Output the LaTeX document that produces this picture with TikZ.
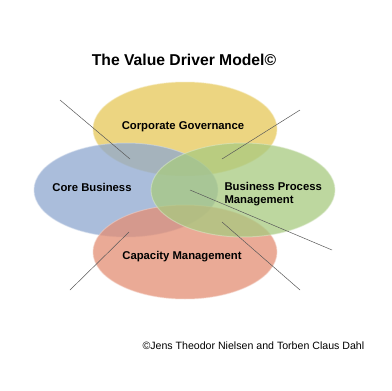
\documentclass[tikz,border=0pt]{standalone}
\usepackage{fontspec}
\setmainfont{Liberation Sans}
\usetikzlibrary{shapes.geometric}

\definecolor{govyellow}{RGB}{230,200,88}
\definecolor{coreblue}{RGB}{142,168,208}
\definecolor{bpmgreen}{RGB}{168,202,128}
\definecolor{capred}{RGB}{228,142,115}

\tikzset{
  driver/.style={ellipse, minimum width=184pt, minimum height=94pt,
                 inner sep=0pt, fill opacity=0.75, draw opacity=0.5, line width=1pt},
  driverlabel/.style={font=\bfseries\fontsize{11.3}{13.6}\selectfont, align=left},
  callout/.style={draw=black!65, line width=0.5pt}
}

\begin{document}
\begin{tikzpicture}[x=1pt, y=-1pt]

    \useasboundingbox[fill=white] (0,0) rectangle (392,391);

    % Title
    \node[font=\bfseries\fontsize{15.7}{18}\selectfont] (title) at (184,60) {The Value Driver Model\textcopyright};

    % --------------------------------------------------
    % The four value drivers
    % --------------------------------------------------
    \node[driver, fill=govyellow, draw=govyellow!40!white] (gov) at (185,129) {};
    \node[driver, fill=coreblue, draw=coreblue!40!white] (core) at (126,190) {};
    \node[driver, fill=capred, draw=capred!40!white] (cap) at (185,252) {};
    \node[driver, fill=bpmgreen, draw=bpmgreen!40!white] (bpm) at (243,190) {};

    % Labels
    \node[driverlabel] (govtext) at (183,127) {Corporate Governance};
    \node[driverlabel] (coretext) at (92,187) {Core Business};
    \node[driverlabel, anchor=west] (bpmtext) at (221,194) {Business Process\\Management};
    \node[driverlabel] (captext) at (182,257) {Capacity Management};

    % --------------------------------------------------
    % Callout lines into the overlaps
    % --------------------------------------------------
    \coordinate (govcore-out) at (60,100);
    \coordinate (govcore-in) at (130,159);
    \coordinate (govbpm-out) at (300,110);
    \coordinate (govbpm-in) at (222,159);
    \coordinate (centre-in) at (190,190);
    \coordinate (centre-out) at (332,250);
    \coordinate (corecap-in) at (129,232);
    \coordinate (corecap-out) at (70,290);
    \coordinate (bpmcap-in) at (222,222);
    \coordinate (bpmcap-out) at (300,290);

    \draw[callout] (govcore-out) -- (govcore-in);
    \draw[callout] (govbpm-out) -- (govbpm-in);
    \draw[callout] (centre-in) -- (centre-out);
    \draw[callout] (corecap-in) -- (corecap-out);
    \draw[callout] (bpmcap-in) -- (bpmcap-out);

    % Footer
    \node[font=\fontsize{10.6}{12}\selectfont, anchor=west] (credit) at (139,346) {\textcopyright Jens Theodor Nielsen and Torben Claus Dahl};

\end{tikzpicture}
\end{document}
